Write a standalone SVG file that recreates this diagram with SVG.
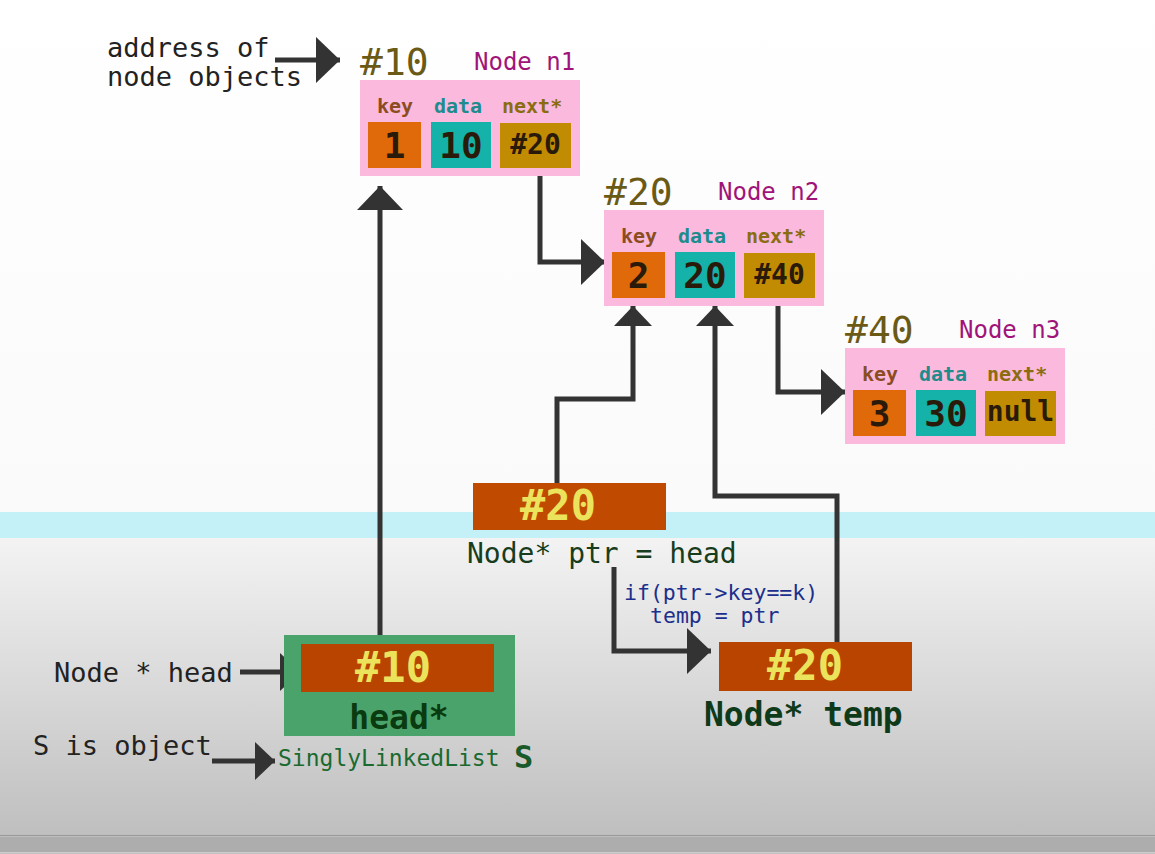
<svg xmlns="http://www.w3.org/2000/svg" width="1155" height="854" viewBox="0 0 1155 854">
<defs>
<linearGradient id="bgTop" x1="0" y1="0" x2="0" y2="1"><stop offset="0" stop-color="#ffffff"/><stop offset="1" stop-color="#fafafa"/></linearGradient>
<linearGradient id="bgBot" x1="0" y1="0" x2="0" y2="1"><stop offset="0" stop-color="#f3f3f3"/><stop offset="1" stop-color="#bfbfbf"/></linearGradient>
<marker id="big" markerUnits="userSpaceOnUse" markerWidth="26" markerHeight="48" refX="24" refY="23" orient="auto" viewBox="0 0 26 48"><path d="M0,0 L24,23 L0,46 z" fill="#333"/></marker>
<marker id="small" markerUnits="userSpaceOnUse" markerWidth="22" markerHeight="40" refX="20" refY="19" orient="auto" viewBox="0 0 22 40"><path d="M0,0 L20,19 L0,38 z" fill="#333"/></marker>
<style>
text{font-family:"DejaVu Sans Mono","Liberation Mono",monospace}
.conn{fill:none;stroke:#333;stroke-width:5}
.pink{fill:#fbb9de}
.addr{font-size:38px;fill:#6b5a16}
.nname{font-size:24px;fill:#a0147a}
.lbl{font-size:20px;font-weight:bold}
.kbox{fill:#e0690a}
.dbox{fill:#14b2a8}
.nbox{fill:#c28c02}
.val{font-size:36px;font-weight:bold;fill:#2a1a0a;text-anchor:middle}
.ptrv{font-size:28px;font-weight:bold;fill:#2a1a0a;text-anchor:middle}
.rbox{fill:#b84400}
.yel{font-size:42px;font-weight:bold;fill:#ece35c;text-anchor:middle}
.note{font-size:27px;fill:#222}
</style>
</defs>
<rect x="0" y="0" width="1155" height="512" fill="url(#bgTop)"/>
<rect x="0" y="512" width="1155" height="26" fill="#c4f1f7"/>
<rect x="0" y="538" width="1155" height="297" fill="url(#bgBot)"/>
<rect x="0" y="835" width="1155" height="1.5" fill="#999"/>
<rect x="0" y="836.5" width="1155" height="16" fill="#adadad"/>
<rect x="0" y="852.5" width="1155" height="1.5" fill="#c2c2c2"/>

<g id="connectors">
<path class="conn" d="M275,60 H340" marker-end="url(#big)"/>
<path class="conn" d="M380,643 V186" marker-end="url(#big)"/>
<path class="conn" d="M540,168 V262 H605" marker-end="url(#big)"/>
<path class="conn" d="M557,483 V399 H633 V306" marker-end="url(#small)"/>
<path class="conn" d="M837,642 V496 H715 V306" marker-end="url(#small)"/>
<path class="conn" d="M778,298 V392 H845" marker-end="url(#big)"/>
<path class="conn" d="M614,567 V651 H711" marker-end="url(#big)"/>
<path class="conn" d="M240,672 H300" marker-end="url(#small)"/>
<path class="conn" d="M212,761 H275" marker-end="url(#small)"/>
</g>

<g id="label-address">
<text class="note" x="107" y="57">address of</text>
<text class="note" x="107" y="86">node objects</text>
</g>

<g id="n1" transform="translate(360,80)">
<rect class="pink" x="0" y="0" width="220" height="96"/>
<text class="addr" x="0" y="-5">#10</text>
<text class="nname" x="114" y="-10">Node n1</text>
<text class="lbl" x="17" y="33" fill="#8b4d1f">key</text>
<text class="lbl" x="74" y="33" fill="#1e8c8c">data</text>
<text class="lbl" x="142" y="33" fill="#8a6d10">next*</text>
<rect class="kbox" x="8" y="42" width="53" height="46"/>
<rect class="dbox" x="71" y="42" width="60" height="46"/>
<rect class="nbox" x="140" y="43" width="71" height="45"/>
<text class="val" x="34.5" y="78">1</text>
<text class="val" x="101" y="78">10</text>
<text class="ptrv" x="175.5" y="74">#20</text>
</g>

<g id="n2" transform="translate(604,210)">
<rect class="pink" x="0" y="0" width="220" height="96"/>
<text class="addr" x="0" y="-5">#20</text>
<text class="nname" x="114" y="-10">Node n2</text>
<text class="lbl" x="17" y="33" fill="#8b4d1f">key</text>
<text class="lbl" x="74" y="33" fill="#1e8c8c">data</text>
<text class="lbl" x="142" y="33" fill="#8a6d10">next*</text>
<rect class="kbox" x="8" y="42" width="53" height="46"/>
<rect class="dbox" x="71" y="42" width="60" height="46"/>
<rect class="nbox" x="140" y="43" width="71" height="45"/>
<text class="val" x="34.5" y="78">2</text>
<text class="val" x="101" y="78">20</text>
<text class="ptrv" x="175.5" y="74">#40</text>
</g>

<g id="n3" transform="translate(845,348)">
<rect class="pink" x="0" y="0" width="220" height="96"/>
<text class="addr" x="0" y="-5">#40</text>
<text class="nname" x="114" y="-10">Node n3</text>
<text class="lbl" x="17" y="33" fill="#8b4d1f">key</text>
<text class="lbl" x="74" y="33" fill="#1e8c8c">data</text>
<text class="lbl" x="142" y="33" fill="#8a6d10">next*</text>
<rect class="kbox" x="8" y="42" width="53" height="46"/>
<rect class="dbox" x="71" y="42" width="60" height="46"/>
<rect class="nbox" x="140" y="43" width="71" height="45"/>
<text class="val" x="34.5" y="78">3</text>
<text class="val" x="101" y="78">30</text>
<text class="ptrv" x="175.5" y="73" font-size="25">null</text>
</g>

<g id="ptr">
<rect x="473" y="483" width="193" height="47" fill="#c04a00"/>
<text class="yel" x="558" y="520">#20</text>
<text x="467" y="563" font-size="28" fill="#173d1c">Node* ptr = head</text>
</g>

<g id="cond">
<text x="624" y="600" font-size="21.5" fill="#1c2f8c">if(ptr-&gt;key==k)</text>
<text x="650" y="623" font-size="21.5" fill="#1c2f8c">temp = ptr</text>
</g>

<g id="temp">
<rect class="rbox" x="719" y="642" width="193" height="49"/>
<text class="yel" x="805" y="680">#20</text>
<text x="704" y="726" font-size="33" font-weight="bold" fill="#0f3a1a">Node* temp</text>
</g>

<g id="listS">
<rect x="284" y="635" width="231" height="101" fill="#4aa36a"/>
<rect class="rbox" x="301" y="644" width="193" height="48"/>
<text class="yel" x="393" y="682">#10</text>
<text x="399" y="729" font-size="33" font-weight="bold" fill="#0a3a10" text-anchor="middle">head*</text>
<text x="278" y="766" font-size="23" fill="#1a6a30">SinglyLinkedList</text>
<text x="514" y="768" font-size="32" font-weight="bold" fill="#1a5a2a">S</text>
</g>

<g id="label-head">
<text class="note" x="54" y="682">Node * head</text>
</g>
<g id="label-s">
<text class="note" x="33" y="755">S is object</text>
</g>
</svg>
